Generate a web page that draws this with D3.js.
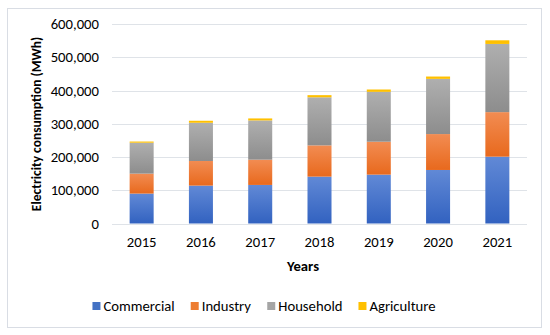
<!DOCTYPE html>
<html>
<head>
<meta charset="utf-8">
<script src="https://cdn.jsdelivr.net/npm/d3@7"></script>
<style>
  body { margin: 0; background: #fff; }
  text { font-family: Carlito, Calibri, "Open Sans", "Noto Sans", sans-serif; fill: #000; }
</style>
</head>
<body>
<script>
// chart data (MWh)
var years = ['2015', '2016', '2017', '2018', '2019', '2020', '2021'];
var seriesNames = ['Commercial', 'Industry', 'Household', 'Agriculture'];
var commercial = [90000, 114000, 116000, 141000, 147000, 161000, 201000];
var industry = [60000, 74000, 76000, 94000, 99000, 108000, 134000];
var household = [93000, 115000, 118000, 144500, 150000, 166000, 205000];
var agriculture = [3500, 6000, 6000, 6500, 7000, 7000, 11000];
var yTicks = [0, 100000, 200000, 300000, 400000, 500000, 600000];

// colours: [top, bottom, legend]
var colors = [
  ['#6189d6', '#3262c0', '#4472c4'],
  ['#f28c52', '#e8691d', '#ed7d31'],
  ['#afafaf', '#8d8d8d', '#a5a5a5'],
  ['#ffc000', '#ffc000', '#ffc000']
];

// dimensions
var W = 550, H = 335,
    margin = {top: 24, right: 23, bottom: 111.5, left: 112},
    width = W - margin.left - margin.right,
    height = H - margin.top - margin.bottom;

var table = years.map(function(y, i) {
  return {year: y, Commercial: commercial[i], Industry: industry[i],
          Household: household[i], Agriculture: agriculture[i]};
});
var stack = d3.stack().keys(seriesNames)(table);

var x = d3.scaleBand().domain(years).range([0, width]).paddingInner(0.595).paddingOuter(0.2975);
var y = d3.scaleLinear().domain([0, 600000]).range([height, 0]);

var svg = d3.select('body').append('svg')
    .attr('width', W)
    .attr('height', H);

// frame
svg.append('rect')
    .attr('x', 7.5).attr('y', 8.5)
    .attr('width', 534).attr('height', 319)
    .attr('fill', '#fff')
    .attr('stroke', '#d9dde4');

// gradients
var defs = svg.append('defs');
colors.forEach(function(c, i) {
  var g = defs.append('linearGradient')
      .attr('id', 'grad' + i)
      .attr('x1', 0).attr('y1', 0).attr('x2', 0).attr('y2', 1);
  g.append('stop').attr('offset', '0%').attr('stop-color', c[0]);
  g.append('stop').attr('offset', '100%').attr('stop-color', c[1]);
});

var g = svg.append('g')
    .attr('transform', 'translate(' + margin.left + ',' + margin.top + ')');

// gridlines
g.append('g')
  .selectAll('line')
  .data(yTicks)
  .enter().append('line')
    .attr('x1', 0).attr('x2', width)
    .attr('y1', function(d) { return Math.round(y(d)) + 0.5; })
    .attr('y2', function(d) { return Math.round(y(d)) + 0.5; })
    .attr('stroke', '#dfe3e8')
    .attr('stroke-width', 1);

// y axis labels
var yAxis = d3.axisLeft(y).tickValues(yTicks).tickSize(0).tickPadding(13).tickFormat(d3.format(','));
g.append('g')
    .call(yAxis)
    .call(function(a) { a.select('.domain').remove(); })
    .selectAll('text')
      .style('font-size', '14.7px')
      .attr('fill', '#000');

// x axis labels
var xAxis = d3.axisBottom(x).tickSize(0).tickPadding(13);
g.append('g')
    .attr('transform', 'translate(0,' + height + ')')
    .call(xAxis)
    .call(function(a) { a.select('.domain').remove(); })
    .selectAll('text')
      .style('font-size', '14.7px')
      .attr('fill', '#000');

// bars
stack.forEach(function(layer, i) {
  g.append('g')
    .selectAll('rect')
    .data(layer)
    .enter().append('rect')
      .attr('x', function(d) { return x(d.data.year); })
      .attr('y', function(d) { return y(d[1]); })
      .attr('width', x.bandwidth())
      .attr('height', function(d) { return y(d[0]) - y(d[1]); })
      .attr('fill', 'url(#grad' + i + ')');
});

// axis titles
svg.append('text')
    .attr('text-anchor', 'middle')
    .attr('transform', 'translate(41,124)rotate(-90)')
    .style('font-size', '13.5px')
    .style('font-weight', 'bold')
    .text('Electricity consumption (MWh)');

svg.append('text')
    .attr('text-anchor', 'middle')
    .attr('x', 303).attr('y', 271)
    .style('font-size', '14.7px')
    .style('font-weight', 'bold')
    .text('Years');

// legend
var legend = svg.append('g');
var items = legend.selectAll('g')
    .data(seriesNames)
    .enter().append('g');
items.append('rect')
    .attr('width', 8).attr('height', 8)
    .attr('y', -4)
    .attr('fill', function(d, i) { return colors[i][2]; });
items.append('text')
    .attr('x', 11)
    .attr('dy', '0.35em')
    .style('font-size', '14.7px')
    .text(function(d) { return d; });

var cx = 0;
items.each(function() {
  var w = this.getBBox().width;
  d3.select(this).attr('transform', 'translate(' + cx + ',0)');
  cx += w + 16;
});
var total = cx - 16;
legend.attr('transform', 'translate(' + (264 - total / 2) + ',306)');
</script>
</body>
</html>
